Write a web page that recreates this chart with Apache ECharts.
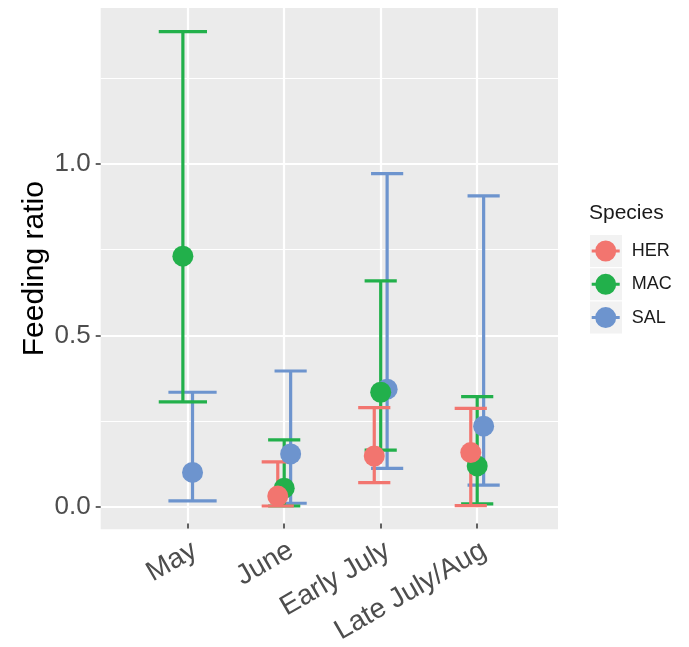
<!DOCTYPE html>
<html>
<head>
<meta charset="utf-8">
<script src="https://cdn.jsdelivr.net/npm/echarts@6/dist/echarts.min.js"></script>
<style>html,body{margin:0;padding:0;background:#fff;}#c{width:689px;height:647px;}</style>
</head>
<body>
<div id="c"></div>
<script>
// ---- data ----
const categories = ['May', 'June', 'Early July', 'Late July/Aug'];
const species = ['HER', 'MAC', 'SAL'];
const herMean = [null, 0.031, 0.148, 0.158];
const herLow  = [null, 0.002, 0.070, 0.003];
const herHigh = [null, 0.131, 0.289, 0.287];
const macMean = [0.731, 0.054, 0.334, 0.119];
const macLow  = [0.306, 0.002, 0.165, 0.008];
const macHigh = [1.386, 0.195, 0.659, 0.321];
const salMean = [0.100, 0.154, 0.343, 0.235];
const salLow  = [0.017, 0.010, 0.112, 0.063];
const salHigh = [0.334, 0.396, 0.972, 0.907];
const yTicks = [0, 0.5, 1.0];

// ---- styling ----
const colors = {HER: '#F2756F', MAC: '#22B04B', SAL: '#6D94CE'};
const FONT = 'Liberation Sans, Arial, Helvetica, sans-serif';
const means = {HER: herMean, MAC: macMean, SAL: salMean};
const lows = {HER: herLow, MAC: macLow, SAL: salLow};
const highs = {HER: herHigh, MAC: macHigh, SAL: salHigh};
const DODGE = 0.2;

function dodgeInfo(sp, c) {
  const present = species.filter(s => means[s][c] !== null);
  const n = present.length, i = present.indexOf(sp);
  return {x: c + (i - (n - 1) / 2) * DODGE / n, hw: 0.5 / n};
}

function errData(sp) {
  const out = [];
  categories.forEach((cat, c) => {
    if (means[sp][c] === null) return;
    const d = dodgeInfo(sp, c);
    out.push([d.x, lows[sp][c], highs[sp][c], d.hw]);
  });
  return out;
}
function ptData(sp) {
  const out = [];
  categories.forEach((cat, c) => {
    if (means[sp][c] === null) return;
    out.push([dodgeInfo(sp, c).x, means[sp][c]]);
  });
  return out;
}

function renderErr(color) {
  return function (params, api) {
    const x = api.value(0), lo = api.value(1), hi = api.value(2), hw = api.value(3);
    const pLo = api.coord([x, lo]), pHi = api.coord([x, hi]);
    const xl = api.coord([x - hw, lo])[0], xr = api.coord([x + hw, lo])[0];
    const style = {stroke: color, lineWidth: 3.2, fill: null};
    return {type: 'group', children: [
      {type: 'line', shape: {x1: pLo[0], y1: pLo[1], x2: pHi[0], y2: pHi[1]}, style: style},
      {type: 'line', shape: {x1: xl, y1: pHi[1], x2: xr, y2: pHi[1]}, style: style},
      {type: 'line', shape: {x1: xl, y1: pLo[1], x2: xr, y2: pLo[1]}, style: style}
    ]};
  };
}

const drawOrder = ['SAL', 'MAC', 'HER'];
const series = [];
drawOrder.forEach(sp => {
  series.push({
    name: sp, type: 'custom', xAxisIndex: 0, yAxisIndex: 0,
    itemStyle: {color: colors[sp]},
    renderItem: renderErr(colors[sp]), data: errData(sp), z: 3, silent: true
  });
});
drawOrder.forEach(sp => {
  series.push({
    name: sp, type: 'scatter', xAxisIndex: 0, yAxisIndex: 0,
    symbol: 'circle', symbolSize: 21, itemStyle: {color: colors[sp], opacity: 1},
    data: ptData(sp), z: 4, silent: true
  });
});

// panel geometry
const PL = 100.7, PT = 8, PW = 457.3, PH = 521.3;
const Y0 = 506.7, YU = 342.7; // pixel of 0 and pixels per unit
const CAT0 = 187.7, CATU = 96.5;

const legendIcon = 'path://M0 9.5 L28 9.5 L28 12.5 L0 12.5 Z M3.5 11 A10.5 10.5 0 1 1 24.5 11 A10.5 10.5 0 1 1 3.5 11 Z';

const option = {
  animation: false,
  backgroundColor: '#ffffff',
  textStyle: {fontFamily: FONT},
  title: {
    text: 'Species', left: 589, top: 203, padding: 0,
    textStyle: {fontSize: 21, fontWeight: 'normal', color: '#1a1a1a', fontFamily: FONT}
  },
  legend: {
    orient: 'vertical', left: 591.7, top: 234.5, padding: 0,
    itemWidth: 28, itemHeight: 21, itemGap: 0.3,
    icon: legendIcon, selectedMode: false,
    data: species,
    formatter: name => '{a|' + name + '}',
    textStyle: {
      fontSize: 18, color: '#1a1a1a', fontFamily: FONT, lineHeight: 33,
      rich: {a: {fontSize: 18, color: '#1a1a1a', fontFamily: FONT, lineHeight: 33, padding: [0, 0, 0, 7]}}
    }
  },
  graphic: [0, 1, 2].map(i => ({
    type: 'rect', left: 590, top: 235 + i * 33.3, z: 0,
    shape: {width: 32, height: 32}, style: {fill: '#F2F2F2'}
  })),
  grid: [
    {left: PL, top: PT, width: PW, height: PH, show: true, backgroundColor: '#EBEBEB', borderWidth: 0, z: -5},
    {left: PL, top: Y0 - 1.0 * YU, width: PW, height: YU, show: false},
    {left: CAT0, top: PT, width: CATU * 3, height: PH, show: false},
    {left: PL, top: Y0 - 1.25 * YU, width: PW, height: YU, show: false}
  ],
  xAxis: [
    {gridIndex: 0, type: 'value', min: (PL - CAT0) / CATU, max: (PL + PW - CAT0) / CATU,
     axisLine: {show: false}, axisTick: {show: false}, axisLabel: {show: false}, splitLine: {show: false}},
    {gridIndex: 1, type: 'value', show: false},
    {gridIndex: 2, type: 'category', data: categories, boundaryGap: false,
     axisLine: {show: false},
     axisTick: {show: true, length: 5, alignWithLabel: true, interval: 0, lineStyle: {color: '#333333', width: 1.5}},
     splitLine: {show: true, interval: 0, lineStyle: {color: '#ffffff', width: 2.2}},
     axisLabel: {interval: 0, rotate: 30, margin: 13, fontSize: 28, color: '#4D4D4D', fontFamily: FONT,
       align: 'right', verticalAlign: 'top'}},
    {gridIndex: 3, type: 'value', show: false}
  ],
  yAxis: [
    {gridIndex: 0, type: 'value', min: (Y0 - PT - PH) / YU, max: (Y0 - PT) / YU,
     name: 'Feeding ratio', nameLocation: 'middle', nameGap: 51,
     nameTextStyle: {fontSize: 30, color: '#000000', fontFamily: FONT},
     axisLine: {show: false}, axisTick: {show: false}, axisLabel: {show: false}, splitLine: {show: false}},
    {gridIndex: 1, type: 'value', min: 0, max: 1.0, interval: 0.5,
     axisLine: {show: false},
     axisTick: {show: true, length: 5, lineStyle: {color: '#333333', width: 1.5}},
     splitLine: {show: true, lineStyle: {color: '#ffffff', width: 2.2}},
     axisLabel: {margin: 10, fontSize: 26, color: '#4D4D4D', fontFamily: FONT,
       formatter: v => (yTicks.some(t => Math.abs(t - v) < 1e-9) ? v.toFixed(1) : '')}},
    {gridIndex: 2, type: 'value', show: false},
    {gridIndex: 3, type: 'value', min: 0.25, max: 1.25, interval: 0.5,
     axisLine: {show: false}, axisTick: {show: false}, axisLabel: {show: false},
     splitLine: {show: true, lineStyle: {color: '#ffffff', width: 1.1}}}
  ],
  series: series
};

const chart = echarts.init(document.getElementById('c'), null, {renderer: 'canvas'});
chart.setOption(option);
</script>
</body>
</html>
